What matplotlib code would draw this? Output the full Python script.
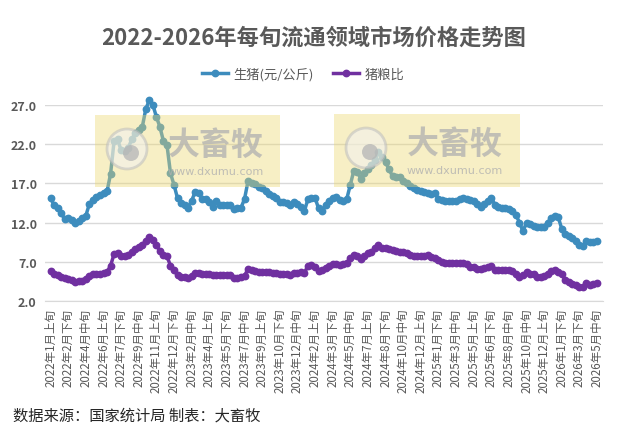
import numpy as np
import matplotlib
matplotlib.use('Agg')
import matplotlib.pyplot as plt
from matplotlib.patches import Rectangle, Circle

plt.rcParams['font.family'] = ['Noto Sans CJK SC', 'DejaVu Sans']

# 生猪价格 (元/公斤), 每旬
hog_price = [
    15.1, 14.2, 13.8, 13.2, 12.4, 12.6, 12.3, 11.9, 12.2, 12.6,
    12.9, 14.4, 14.9, 15.3, 15.5, 15.8, 16.0, 18.2, 22.4, 22.6,
    21.2, 21.1, 21.5, 22.6, 23.4, 23.8, 24.2, 26.5, 27.6, 27.0,
    25.5, 24.2, 22.4, 21.9, 18.3, 16.8, 15.1, 14.5, 14.2, 13.9,
    14.8, 15.9, 15.8, 15.0, 15.0, 14.6, 14.0, 14.7, 14.3, 14.2,
    14.3, 14.3, 13.7, 13.8, 13.9, 15.0, 17.3, 17.0, 16.9, 16.6,
    16.4, 16.0, 15.6, 15.4, 15.2, 14.6, 14.6, 14.5, 14.2, 14.6,
    14.4, 14.0, 13.5, 15.0, 15.1, 15.2, 13.8, 13.5, 14.3, 14.8,
    15.2, 15.3, 14.9, 14.8, 15.0, 16.8, 18.6, 18.5, 17.6, 18.3,
    18.8, 19.3, 20.0, 21.0, 20.4, 19.7, 18.8, 17.9, 17.8, 17.8,
    17.3, 17.1, 16.7, 16.4, 16.1, 16.0, 15.9, 15.8, 15.7, 15.8,
    15.0, 14.9, 14.8, 14.8, 14.8, 14.8, 15.0, 15.1, 15.0, 14.9,
    14.7, 14.4, 14.0, 14.4, 14.8, 15.2, 14.3, 14.0, 13.9, 13.8,
    13.7, 13.5, 13.0, 12.0, 10.9, 12.0, 11.8, 11.6, 11.4, 11.4,
    11.5, 12.0, 12.6, 12.9, 12.7, 11.2, 10.5, 10.3, 10.0, 9.6,
    9.1, 9.0, 9.7, 9.5, 9.5, 9.6,
]

# 猪粮比
hog_grain_ratio = [
    5.8, 5.5, 5.3, 5.1, 4.9, 4.8, 4.7, 4.4, 4.5, 4.6,
    4.8, 5.2, 5.4, 5.5, 5.5, 5.6, 5.7, 6.5, 8.0, 8.1,
    7.7, 7.8, 7.9, 8.3, 8.6, 8.9, 9.1, 9.7, 10.1, 9.8,
    9.1, 8.4, 7.9, 7.7, 6.5, 5.9, 5.3, 5.1, 5.0, 4.9,
    5.2, 5.6, 5.6, 5.5, 5.5, 5.4, 5.3, 5.3, 5.3, 5.3,
    5.3, 5.3, 4.9, 4.9, 5.0, 5.2, 6.1, 5.9, 5.8, 5.7,
    5.7, 5.7, 5.7, 5.6, 5.6, 5.5, 5.5, 5.4, 5.3, 5.6,
    5.6, 5.7, 5.6, 6.5, 6.6, 6.4, 5.8, 5.9, 6.2, 6.5,
    6.7, 6.7, 6.6, 6.7, 6.8, 7.5, 7.9, 7.8, 7.3, 7.7,
    8.1, 8.3, 8.7, 9.2, 8.8, 8.7, 8.6, 8.5, 8.4, 8.3,
    8.2, 8.1, 7.9, 7.8, 7.7, 7.7, 7.8, 7.9, 7.6, 7.5,
    7.2, 7.0, 6.9, 6.9, 6.9, 6.9, 6.9, 6.9, 6.7, 6.4,
    6.3, 6.1, 6.1, 6.2, 6.4, 6.5, 6.0, 5.9, 5.9, 5.9,
    5.9, 5.8, 5.5, 5.0, 5.3, 5.7, 5.5, 5.4, 5.1, 5.0,
    5.2, 5.5, 5.8, 5.9, 5.7, 5.4, 4.7, 4.4, 4.2, 4.0,
    3.8, 3.8, 4.3, 4.1, 4.2, 4.3,
]

# every 5th dekad is labelled
tick_labels = [
    '2022年1月上旬', '2022年2月下旬', '2022年4月中旬', '2022年6月上旬',
    '2022年7月下旬', '2022年9月中旬', '2022年11月上旬', '2022年12月下旬',
    '2023年2月中旬', '2023年4月上旬', '2023年5月下旬', '2023年7月中旬',
    '2023年9月上旬', '2023年10月下旬', '2023年12月中旬', '2024年2月上旬',
    '2024年3月下旬', '2024年5月中旬', '2024年7月上旬', '2024年8月下旬',
    '2024年10月中旬', '2024年12月上旬', '2025年1月下旬', '2025年3月中旬',
    '2025年5月上旬', '2025年6月下旬', '2025年8月中旬', '2025年10月中旬',
    '2025年12月上旬', '2026年1月下旬', '2026年3月下旬', '2026年5月中旬',
]

BLUE = '#3d8cbd'
PURPLE = '#7030a0'
GREY = '#595959'

W, H = 627, 439
fig = plt.figure(figsize=(W / 100, H / 100), dpi=100)
ax = fig.add_axes([45 / W, 1 - 302 / H, (603 - 45) / W, (302 - 106) / H])

x = np.arange(len(hog_price))
ax.plot(x, hog_price, color=BLUE, lw=2.5, marker='o', ms=4.6,
        clip_on=False, label='生猪(元/公斤)', zorder=3)
ax.plot(x, hog_grain_ratio, color=PURPLE, lw=2.5, marker='o', ms=4.6,
        clip_on=False, label='猪粮比', zorder=3)

ax.set_ylim(2, 27)
yt = np.arange(2, 28, 5)
ax.set_yticks(yt)
ax.set_yticklabels([f'{v:.1f}' for v in yt], fontsize=9, fontweight='bold', color=GREY)
ax.set_xlim(-1.6, 156.7)
ax.set_xticks(x[::5])
ax.set_xticklabels(tick_labels, rotation=90, fontsize=8.3, color=GREY)
ax.tick_params(length=0)
ax.tick_params(axis='x', pad=5)
ax.tick_params(axis='y', pad=6)
ax.grid(axis='y', color='#d9d9d9', lw=1, zorder=0)
for s in ['top', 'right', 'left']:
    ax.spines[s].set_visible(False)
ax.spines['bottom'].set_color('#d9d9d9')

fig.text(0.5, 1 - 38 / H, '2022-2026年每旬流通领域市场价格走势图',
         ha='center', va='center', fontsize=16, fontweight='bold', color=GREY)
fig.legend(loc='center', bbox_to_anchor=(303 / W, 1 - 75 / H), ncol=2, frameon=False,
           fontsize=9.5, labelcolor=GREY, handlelength=2.0, columnspacing=1.4,
           handletextpad=0.4)
fig.text(13 / W, 1 - 416 / H, '数据来源：国家统计局 制表：大畜牧',
         ha='left', va='center', fontsize=11, color='#262626')

# watermark overlay, pixel coordinates
ov = fig.add_axes([0, 0, 1, 1], zorder=5)
ov.set_xlim(0, W)
ov.set_ylim(H, 0)
ov.axis('off')
ov.patch.set_alpha(0)


def draw_mark(x0, y0, w, h):
    ov.add_patch(Rectangle((x0, y0), w, h, facecolor='#ebd76e', alpha=0.4, lw=0))
    cx, cy = x0 + 32, y0 + 34
    ov.add_patch(Circle((cx, cy), 20, facecolor='#f2f2f2', alpha=0.55,
                        edgecolor='#bdbdbd', lw=2))
    ov.add_patch(Circle((cx + 4, cy + 4), 8, facecolor='#b5b5b5', alpha=0.75, lw=0))
    ov.text(x0 + 121, y0 + 30, '大畜牧', ha='center', va='center', fontsize=23,
            fontweight='bold', color='#b0b0b0', alpha=0.75)
    ov.text(x0 + 121, y0 + 56, 'www.dxumu.com', ha='center', va='center', fontsize=8,
            color='#b0b0b0', alpha=0.8, family='DejaVu Sans')


draw_mark(95, 116, 185, 72)
draw_mark(334, 115, 186, 73)

fig.savefig('out.png', dpi=100)
